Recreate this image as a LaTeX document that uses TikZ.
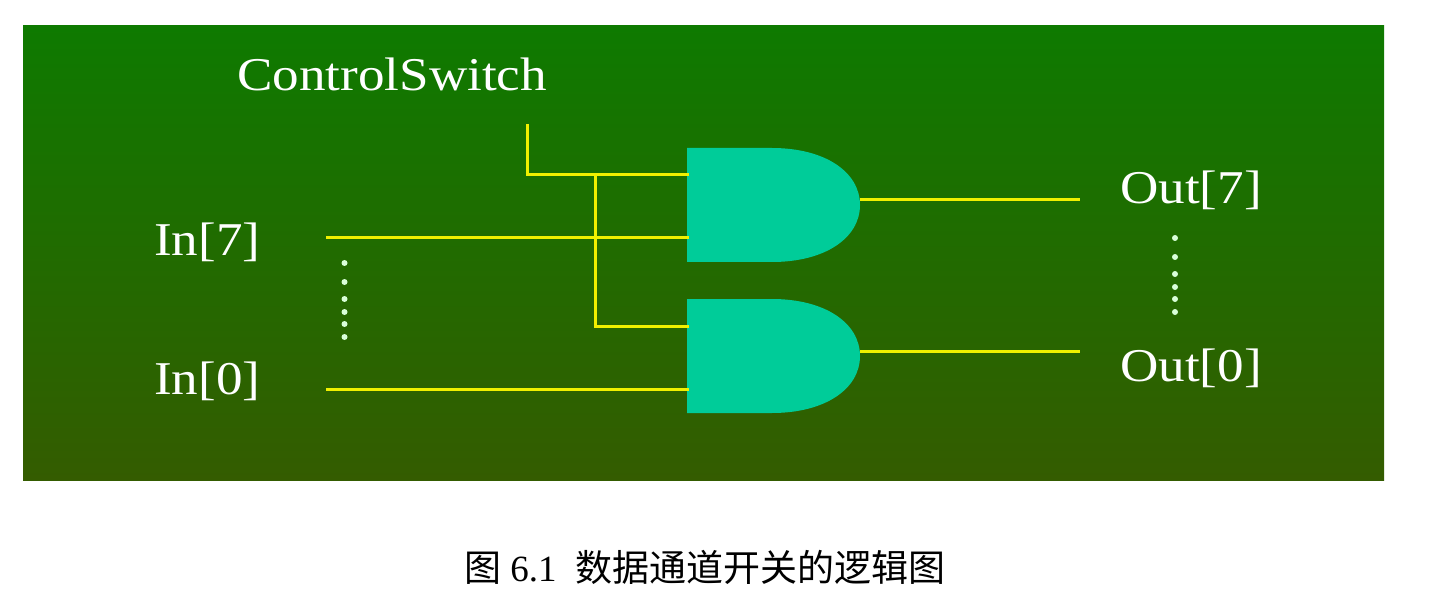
\documentclass[tikz,border=0pt]{standalone}
\usepackage{fontspec}
\setmainfont{Liberation Serif}
\newfontfamily\stretched[FakeStretch=1.13]{Liberation Serif}
\newfontfamily\cjk{Noto Sans CJK SC}
\definecolor{bgtop}{RGB}{14,122,0}
\definecolor{bgbot}{RGB}{52,92,0}
\definecolor{gatefill}{RGB}{0,204,153}
\definecolor{wire}{RGB}{240,240,0}
\tikzset{
  x=1pt,y=-1pt,
  lbl/.style={text=white,inner sep=0pt,font=\stretched\fontsize{47}{47}\selectfont,anchor=base west},
  wirepath/.style={draw=wire,line width=3pt},
  gatepath/.style={fill=gatefill,draw=none},
  dotmark/.style={circle,fill=white!85!green,inner sep=0pt,minimum size=6pt},
}
\begin{document}
\begin{tikzpicture}
\useasboundingbox (0,0) rectangle (1438,596);
\fill[white] (0,0) rectangle (1438,596);
\shade[top color=bgtop,bottom color=bgbot] (23,25.4) rectangle (1384,480.4);
% gates
\path[gatepath] (687,148) -- (772,148) .. controls (825,148) and (860,172) .. (860,205) .. controls (860,238) and (825,262) .. (772,262) -- (687,262) -- cycle;
\path[gatepath] (687,299) -- (772,299) .. controls (825,299) and (860,323) .. (860,356) .. controls (860,389) and (825,413) .. (772,413) -- (687,413) -- cycle;
% connector ends
\coordinate (cs) at (527,124);
\coordinate (csb) at (527,175);
\coordinate (j) at (595,175);
\coordinate (jb) at (595,326);
\coordinate (g1a) at (689,175);
\coordinate (g1b) at (689,238);
\coordinate (g2a) at (689,326);
\coordinate (g2b) at (689,389);
\coordinate (i7) at (326,238);
\coordinate (i0) at (326,389);
\coordinate (g1o) at (860,200);
\coordinate (g2o) at (860,351);
\coordinate (o7) at (1080,200);
\coordinate (o0) at (1080,351);
\draw[wirepath] (cs) -- (csb) -- (j) -- (g1a);
\draw[wirepath] (j) -- (jb) -- (g2a);
\draw[wirepath] (i7) -- (g1b);
\draw[wirepath] (i0) -- (g2b);
\draw[wirepath] (g1o) -- (o7);
\draw[wirepath] (g2o) -- (o0);
% labels
\node[lbl] (control) at (237,91) {ControlSwitch};
\node[lbl] (in7) at (154,255) {In[7]};
\node[lbl] (in0) at (154,394) {In[0]};
\node[lbl] (out7) at (1120,204) {Out[7]};
\node[lbl] (out0) at (1120,381) {Out[0]};
% dots
\foreach \y [count=\i] in {263,282,299,312,324,337} \node[dotmark] (dl\i) at (344.5,\y) {};
\foreach \y [count=\i] in {238,257,274,287,299,312} \node[dotmark] (dr\i) at (1175,\y) {};
\node[anchor=base,inner sep=0pt,text=black,font=\fontsize{37}{37}\selectfont] (cap) at (704.5,581) {{\cjk 图} 6.1\ \ {\cjk 数据通道开关的逻辑图}};
\end{tikzpicture}
\end{document}
